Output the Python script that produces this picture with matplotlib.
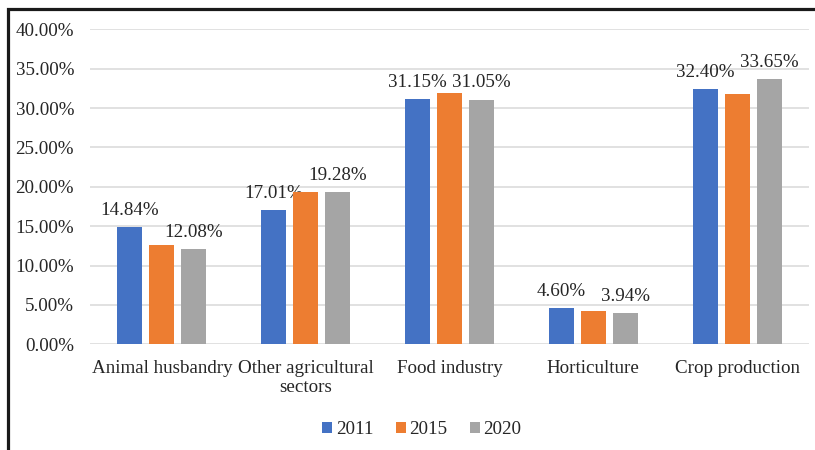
import numpy as np
import matplotlib.pyplot as plt
from matplotlib.patches import Rectangle
from matplotlib.ticker import FuncFormatter

plt.rcParams['font.family'] = ['Liberation Serif', 'DejaVu Serif']

sectors = ['Animal husbandry', 'Other agricultural\nsectors', 'Food industry',
           'Horticulture', 'Crop production']
years = ['2011', '2015', '2020']
share_2011 = [14.84, 17.01, 31.15, 4.60, 32.40]
share_2015 = [12.66, 19.35, 31.86, 4.20, 31.75]
share_2020 = [12.08, 19.28, 31.05, 3.94, 33.65]
labelled = {'2011': True, '2015': False, '2020': True}

colors = ['#4472C4', '#ED7D31', '#A5A5A5']
fs = 13.7

fig = plt.figure(figsize=(8.15, 4.5), dpi=100)
ax = fig.add_axes([90 / 815, 1 - 344.3 / 450, (809 - 90) / 815, (344.3 - 29.3) / 450])

x = np.arange(len(sectors))
width = 0.174
step = 0.2225
series = [share_2011, share_2015, share_2020]
for i, (yr, vals) in enumerate(zip(years, series)):
    pos = x + (i - 1) * step
    ax.bar(pos, vals, width, color=colors[i], label=yr, zorder=3)
    if labelled[yr]:
        for px, v in zip(pos, vals):
            ax.annotate(f'{v:.2f}%', (px, v), xytext=(0, 6), textcoords='offset points',
                        ha='center', va='bottom', fontsize=fs, color='#262626')

ax.set_xlim(-0.5, len(sectors) - 0.5)
ax.set_ylim(0, 40)
ax.set_yticks(np.arange(0, 41, 5))
ax.yaxis.set_major_formatter(FuncFormatter(lambda v, _: f'{v:.2f}%'))
ax.grid(axis='y', color='#DCDCDC', linewidth=1.2, zorder=0)
for s in ax.spines.values():
    s.set_visible(False)
ax.tick_params(axis='y', length=0, pad=11.5, labelsize=fs, labelcolor='#262626')
ax.set_xticks(x)
ax.set_xticklabels(sectors, fontsize=fs, color='#262626', linespacing=1.2)
ax.tick_params(axis='x', length=0, pad=11)

fig.legend(loc='center', bbox_to_anchor=(422 / 815, 1 - 430 / 450), ncol=3, frameon=False,
           fontsize=fs, handlelength=0.5, handleheight=0.5, handletextpad=0.2,
           columnspacing=1.2, labelcolor='#262626')

# frame around the chart (left, top; runs past the bottom edge)
fig.patches.append(Rectangle((7.5 / 815, -0.1), 900 / 815, 1.1 - 9.5 / 450,
                             transform=fig.transFigure, fill=False,
                             edgecolor='#1a1a1a', linewidth=2.3))

fig.savefig('out.png', dpi=100)
